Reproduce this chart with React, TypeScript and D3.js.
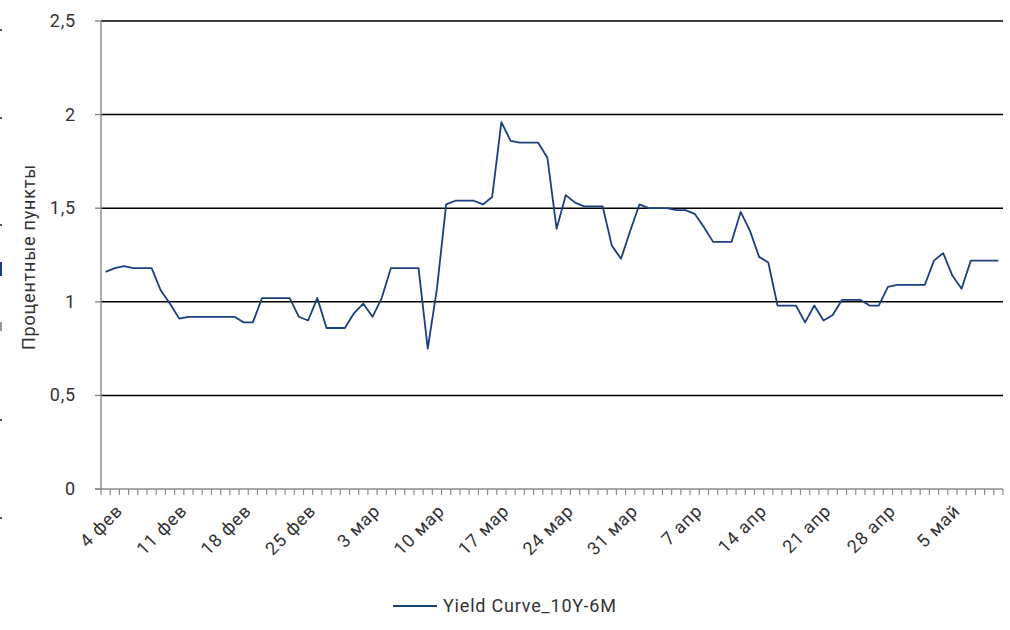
import React, { useEffect, useRef } from "react";
import * as d3 from "d3";

// Daily values, 4 Feb 2020 – 11 May 2020 (percentage points)
const values: number[] = [
  1.16, 1.18, 1.19, 1.18, 1.18, 1.18, 1.06, 0.99, 0.91, 0.92,
  0.92, 0.92, 0.92, 0.92, 0.92, 0.89, 0.89, 1.02, 1.02, 1.02,
  1.02, 0.92, 0.90, 1.02, 0.86, 0.86, 0.86, 0.94, 0.99, 0.92,
  1.02, 1.18, 1.18, 1.18, 1.18, 0.75, 1.07, 1.52, 1.54, 1.54,
  1.54, 1.52, 1.56, 1.96, 1.86, 1.85, 1.85, 1.85, 1.77, 1.39,
  1.57, 1.53, 1.51, 1.51, 1.51, 1.30, 1.23, 1.38, 1.52, 1.50,
  1.50, 1.50, 1.49, 1.49, 1.47, 1.40, 1.32, 1.32, 1.32, 1.48,
  1.38, 1.24, 1.21, 0.98, 0.98, 0.98, 0.89, 0.98, 0.90, 0.93,
  1.01, 1.01, 1.01, 0.98, 0.98, 1.08, 1.09, 1.09, 1.09, 1.09,
  1.22, 1.26, 1.14, 1.07, 1.22, 1.22, 1.22, 1.22,
];

// Labels shown every 7th category
const tickLabels: string[] = [
  "4 фев", "11 фев", "18 фев", "25 фев", "3 мар", "10 мар", "17 мар",
  "24 мар", "31 мар", "7 апр", "14 апр", "21 апр", "28 апр", "5 май",
];
const labelStep = 7;

const yTicks: number[] = [0, 0.5, 1, 1.5, 2, 2.5];
const seriesName = "Yield Curve_10Y-6M";
const yTitle = "Процентные пункты";

export default function App() {
  const ref = useRef<SVGSVGElement>(null);

  useEffect(() => {
    const svg = d3.select(ref.current);
    svg.selectAll("*").remove();
    const font = "Roboto, 'Noto Sans', sans-serif";
    const fs = 18;
    const ls = "0.8px";

    const left = 101, right = 1003, top = 21, bottom = 489;
    const idx = values.map((_, i) => i);
    const x = d3.scaleBand<number>().domain(idx).range([left, right]);
    const y = d3.scaleLinear().domain([0, 2.5]).range([bottom, top]);
    const cx = (i: number) => (x(i) as number) + x.bandwidth() / 2;

    // stray edge marks from neighbouring content
    const marks = [
      { y: 29, h: 2, c: "#555" }, { y: 117, h: 2, c: "#555" },
      { y: 224, h: 2, c: "#555" }, { y: 262, h: 14, c: "#1c3f80" },
      { y: 322, h: 9, c: "#999" }, { y: 419, h: 2, c: "#555" },
      { y: 517, h: 2, c: "#555" },
    ];
    svg.selectAll("rect.mk").data(marks).enter().append("rect")
      .attr("x", 0).attr("y", (d) => d.y).attr("width", 2).attr("height", (d) => d.h)
      .attr("fill", (d) => d.c);

    // gridlines
    svg.append("g").selectAll("line").data(yTicks.filter((t) => t > 0)).enter()
      .append("line")
      .attr("x1", left).attr("x2", right)
      .attr("y1", (d) => y(d)).attr("y2", (d) => y(d))
      .attr("stroke", "#000").attr("stroke-width", 1.5);

    // y axis
    svg.append("line").attr("x1", left).attr("x2", left).attr("y1", top).attr("y2", bottom)
      .attr("stroke", "#8c8c8c").attr("stroke-width", 1.4);
    svg.append("g").selectAll("line").data(yTicks).enter().append("line")
      .attr("x1", left - 6).attr("x2", left)
      .attr("y1", (d) => y(d)).attr("y2", (d) => y(d))
      .attr("stroke", "#8c8c8c").attr("stroke-width", 1.4);
    svg.append("g").selectAll("text").data(yTicks).enter().append("text")
      .attr("x", 76).attr("y", (d) => y(d) + 6)
      .attr("text-anchor", "end")
      .attr("font-family", font).attr("font-size", fs).attr("fill", "#333")
      .attr("letter-spacing", ls)
      .text((d) => String(d).replace(".", ","));

    // y title
    svg.append("text")
      .attr("transform", `translate(35,${(top + bottom) / 2 + 2}) rotate(-90)`)
      .attr("text-anchor", "middle")
      .attr("font-family", font).attr("font-size", fs).attr("fill", "#333")
      .attr("letter-spacing", ls)
      .text(yTitle);

    // x axis
    svg.append("line").attr("x1", left - 6).attr("x2", right).attr("y1", bottom).attr("y2", bottom)
      .attr("stroke", "#8c8c8c").attr("stroke-width", 1.4);
    const bounds = idx.map((i) => x(i) as number).concat([right]);
    svg.append("g").selectAll("line").data(bounds).enter().append("line")
      .attr("x1", (d) => d).attr("x2", (d) => d)
      .attr("y1", bottom).attr("y2", bottom + 6)
      .attr("stroke", "#8c8c8c").attr("stroke-width", 1.2);

    svg.append("g").selectAll("text").data(tickLabels).enter().append("text")
      .attr("transform", (_, k) => `translate(${cx(k * labelStep) + 18},${512}) rotate(-45)`)
      .attr("text-anchor", "end")
      .attr("font-family", font).attr("font-size", fs).attr("fill", "#333")
      .attr("letter-spacing", ls)
      .text((d) => d);

    // line
    const line = d3.line<number>().x((_, i) => cx(i)).y((d) => y(d));
    svg.append("path").datum(values)
      .attr("d", line)
      .attr("fill", "none").attr("stroke", "#1c3f80").attr("stroke-width", 1.8)
      .attr("stroke-linejoin", "round");

    // legend
    svg.append("line").attr("x1", 393).attr("x2", 437).attr("y1", 606).attr("y2", 606)
      .attr("stroke", "#1c3f80").attr("stroke-width", 1.8);
    svg.append("text").attr("x", 443).attr("y", 612)
      .attr("font-family", font).attr("font-size", fs).attr("fill", "#333")
      .attr("letter-spacing", ls)
      .text(seriesName);
  }, []);

  return (
    <svg ref={ref} width={1010} height={630}
      style={{ position: "absolute", left: 0, top: 0, background: "#fff" }} />
  );
}
